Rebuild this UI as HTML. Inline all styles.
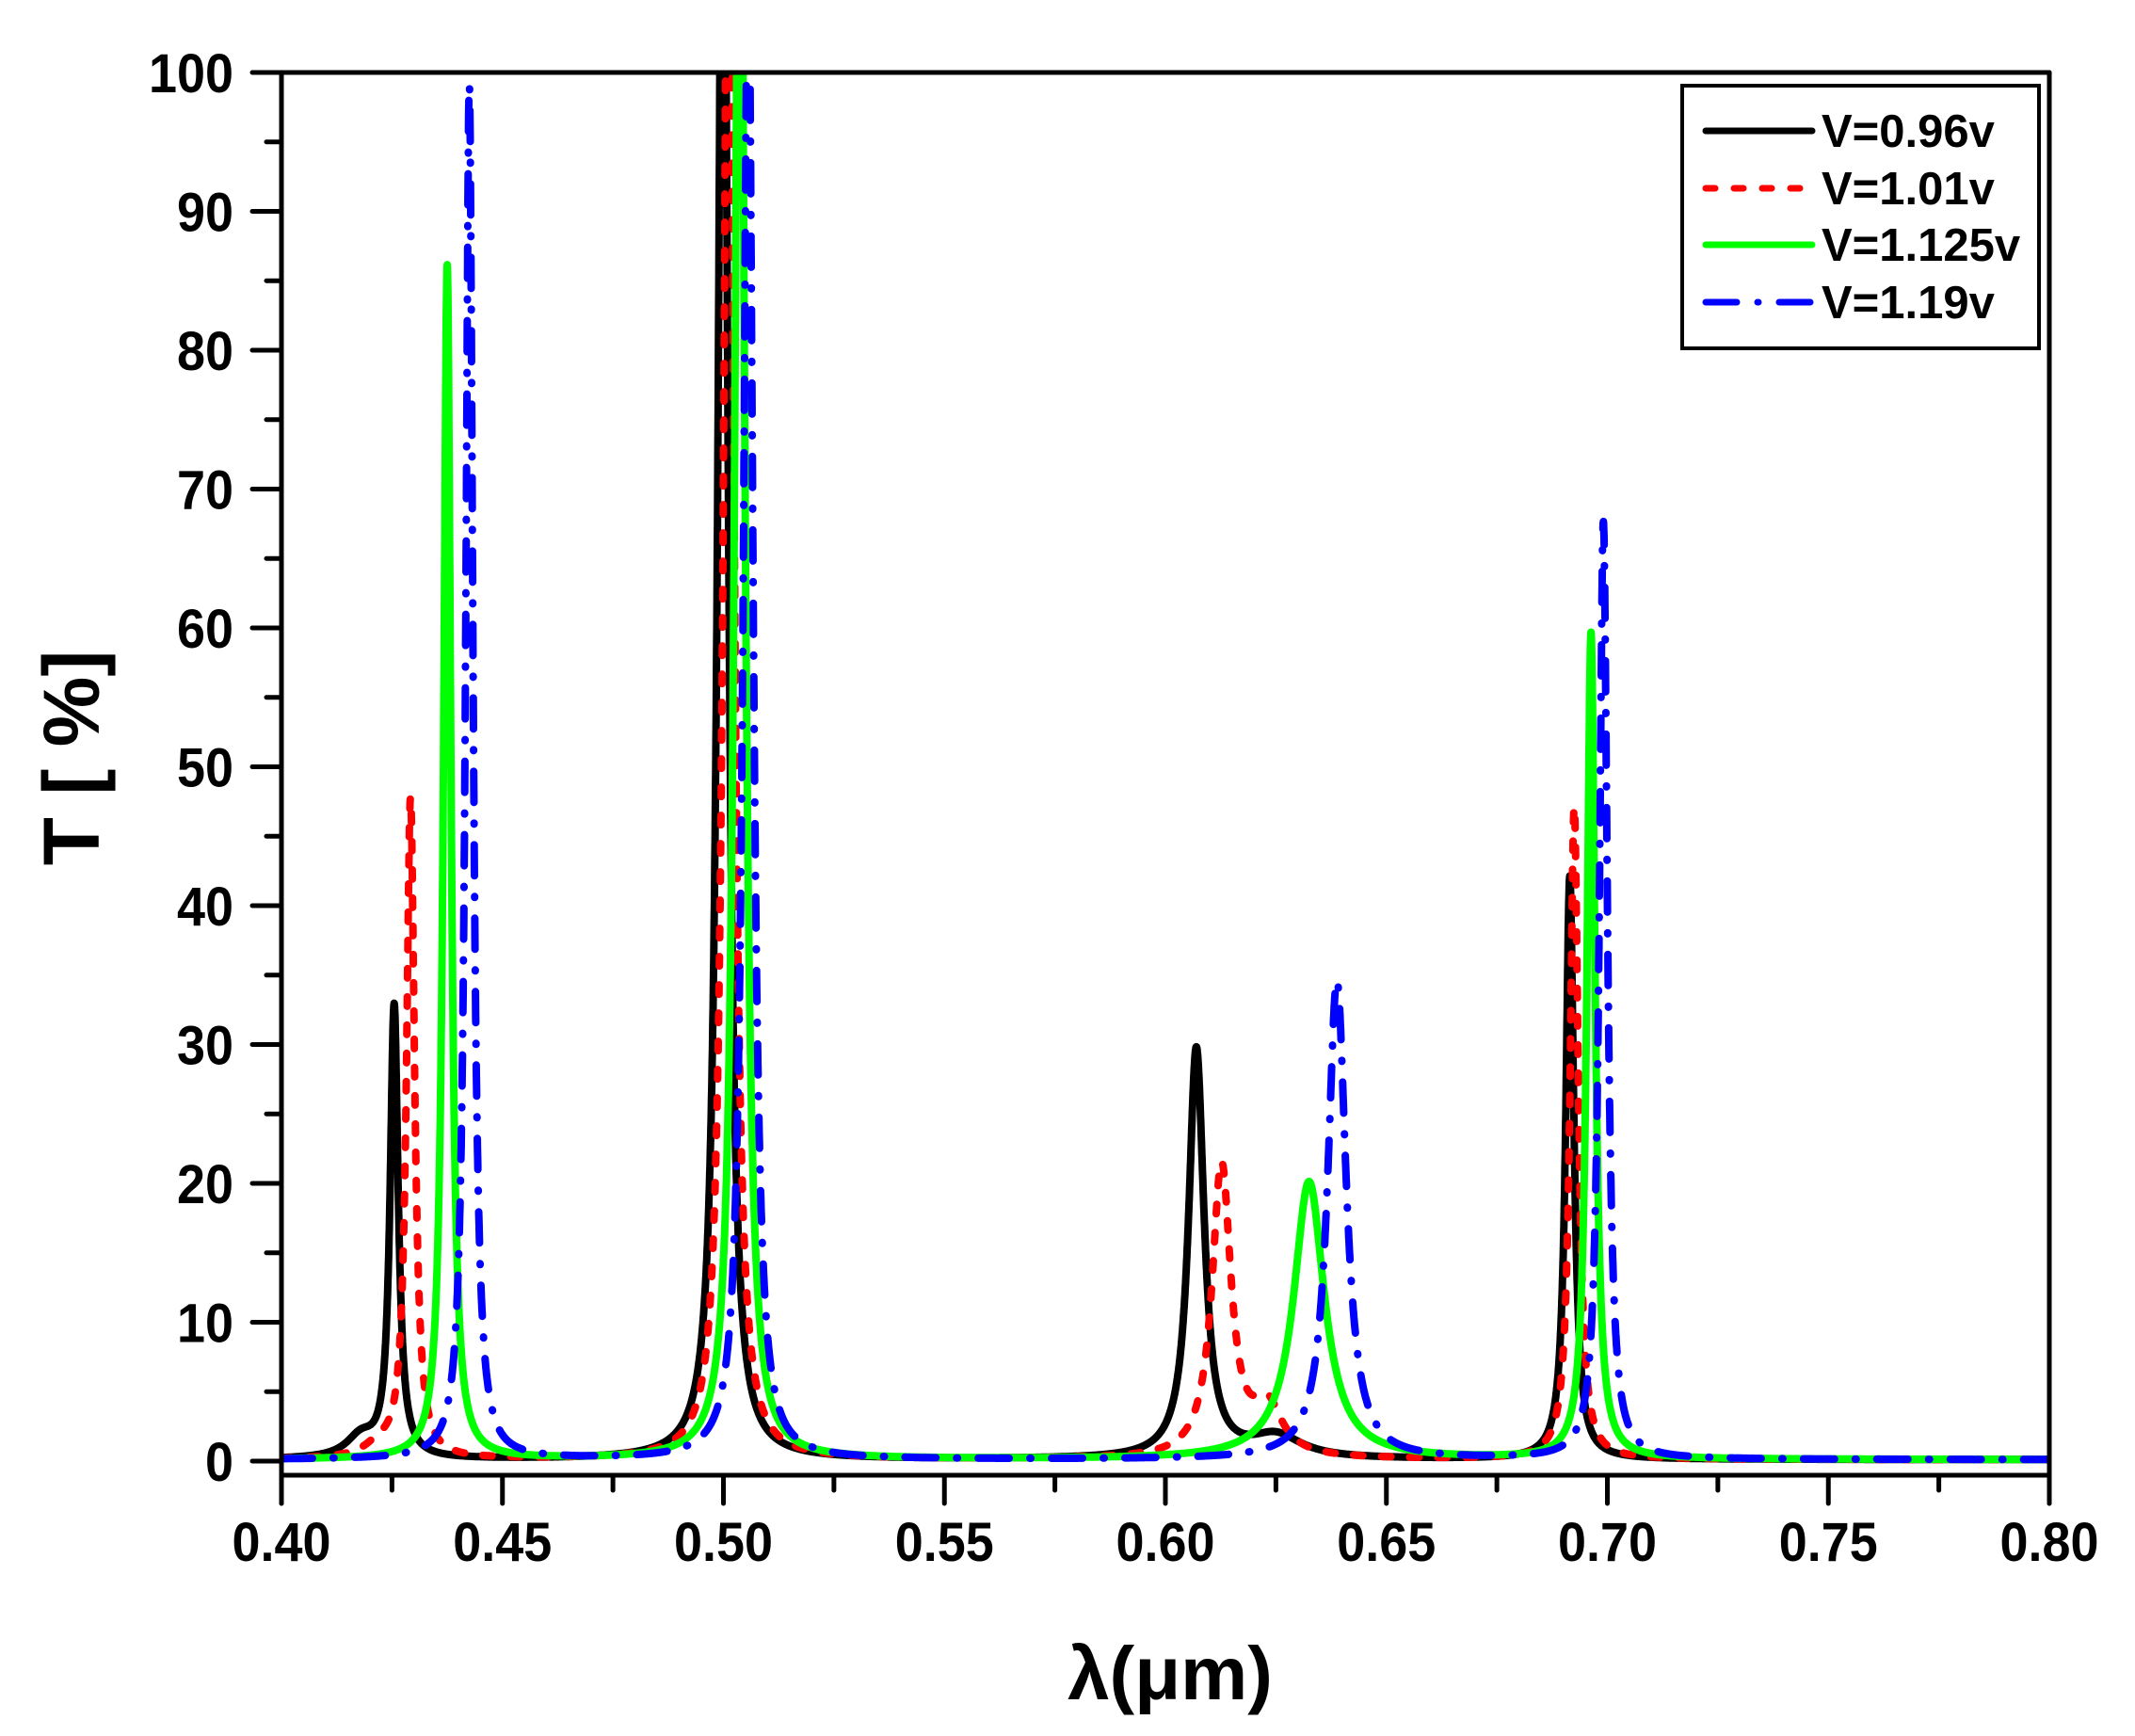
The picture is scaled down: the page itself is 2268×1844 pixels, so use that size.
<!DOCTYPE html>
<html><head><meta charset="utf-8">
<style>
html,body{margin:0;padding:0;background:#fff;}
svg{display:block;}
text{font-family:"Liberation Sans",Arial,sans-serif;font-weight:bold;fill:#000;}
</style></head>
<body>
<svg id="s" width="2268" height="1844" viewBox="0 0 2268 1844" xmlns="http://www.w3.org/2000/svg">
<defs><clipPath id="c"><rect x="299" y="77" width="1878" height="1490"/></clipPath></defs>
<g id="curves" clip-path="url(#c)" fill="none" stroke-width="8" stroke-linejoin="round"></g>
<g stroke="#000" stroke-width="5" fill="none" stroke-linecap="round">
<line x1="269" y1="77" x2="2177" y2="77"/>
<line x1="299" y1="77" x2="299" y2="1597"/>
<line x1="299" y1="1567" x2="2177" y2="1567"/>
<line x1="2177" y1="77" x2="2177" y2="1597"/>
<g id="ticks"></g>
</g>
<g id="labels"></g>
<text transform="translate(105,805) rotate(-90)" text-anchor="middle" font-size="84">T [ %]</text>
<text x="1243" y="1805" text-anchor="middle" font-size="80">λ(μm)</text>
<rect x="1787" y="91" width="379" height="279" fill="#fff" stroke="#000" stroke-width="4"/>
<g stroke-width="7" stroke-linecap="round">
<line x1="1812" y1="139" x2="1925" y2="139" stroke="#000"/>
<line x1="1812" y1="200" x2="1925" y2="200" stroke="#f00" stroke-dasharray="10 20"/>
<line x1="1812" y1="260" x2="1925" y2="260" stroke="#0f0"/>
<line x1="1812" y1="321" x2="1925" y2="321" stroke="#00f" stroke-dasharray="33 22 1 22"/>
</g>
<g font-size="49">
<text x="1935" y="156">V=0.96v</text>
<text x="1935" y="217">V=1.01v</text>
<text x="1935" y="277">V=1.125v</text>
<text x="1935" y="338">V=1.19v</text>
</g>
</svg>
<script>
var NS="http://www.w3.org/2000/svg";
function X(l){return 299+(l-0.4)*4695;}
function Y(t){return 1552-t*14.75;}
var tk=document.getElementById('ticks'),lb=document.getElementById('labels');
function ln(x1,y1,x2,y2){var e=document.createElementNS(NS,'line');e.setAttribute('x1',x1);e.setAttribute('y1',y1);e.setAttribute('x2',x2);e.setAttribute('y2',y2);tk.appendChild(e);}
function tx(x,y,s,a,fs,sx){var e=document.createElementNS(NS,'text');e.setAttribute('text-anchor',a);e.setAttribute('font-size',fs);e.setAttribute('transform','translate('+x+','+y+') scale('+sx+',1)');e.textContent=s;lb.appendChild(e);}
for(var i=0;i<=16;i++){var x=299+i*117.375;if(i%2==0){ln(x,1567,x,1597);tx(x,1658,(0.4+i*0.025).toFixed(2),'middle',58,0.93);}else ln(x,1567,x,1583);}
for(var i=0;i<=20;i++){var y=1552-i*73.75;if(i%2==0){ln(268,y,299,y);tx(248,y+21,String(i*5),'end',58,0.93);}else ln(283,y,299,y);}
function L(l,c,h,w){var d=(l-c)/w;return h/(1+d*d);}
var series=[
 {col:'#000',dash:null,pk:[[0.4255,32.5,0.0011],[0.418,1.5,0.004],[0.4999,130,0.0013],[0.607,29.5,0.0021],[0.625,1.6,0.007],[0.6915,42,0.0011]]},
 {col:'#f00',dash:'10 20',pk:[[0.4292,47.5,0.0011],[0.422,0.8,0.004],[0.5012,130,0.0013],[0.6127,21,0.0026],[0.623,3.5,0.004],[0.6925,47,0.0011]]},
 {col:'#0f0',dash:null,pk:[[0.4375,86,0.0010],[0.5037,130,0.0013],[0.6325,20,0.0042],[0.6963,59.5,0.0011]]},
 {col:'#00f',dash:'33 22 1 22',pk:[[0.4425,99,0.0010],[0.5056,110,0.0013],[0.6388,34.5,0.0025],[0.6991,67.5,0.0011]]}
];
var g=document.getElementById('curves');
series.forEach(function(s){
 var d='';
 for(var k=0;k<=8000;k++){var l=0.4+k*0.00005;var t=0.1;s.pk.forEach(function(p){t+=L(l,p[0],p[1],p[2]);});if(t>103)t=103;
 d+=(k?'L':'M')+X(l).toFixed(1)+' '+Y(t).toFixed(1);}
 var e=document.createElementNS(NS,'path');e.setAttribute('d',d);e.setAttribute('stroke',s.col);
 if(s.dash){e.setAttribute('stroke-dasharray',s.dash);e.setAttribute('stroke-linecap','round');}
 g.appendChild(e);
});
</script>
</body></html>
